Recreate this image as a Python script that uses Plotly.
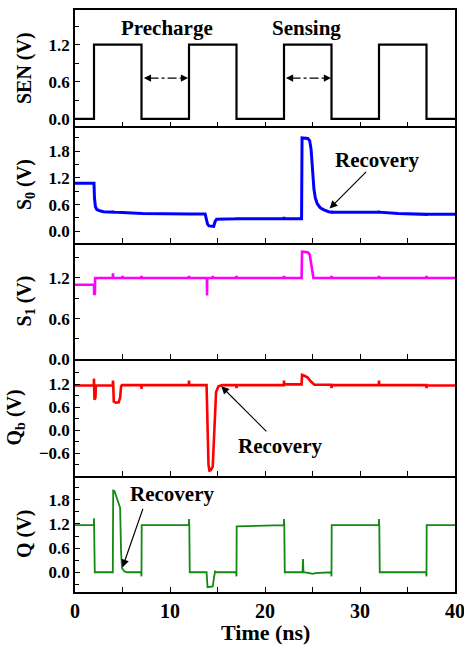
import plotly.graph_objects as go
from plotly.subplots import make_subplots

# ---------------- data ----------------
t_sen = [0, 2, 2, 7, 7, 12, 12, 17, 17, 22, 22, 27, 27, 32, 32, 37, 37, 40]
v_sen = [0, 0, 1.2, 1.2, 0, 0, 1.2, 1.2, 0, 0, 1.2, 1.2, 0, 0, 1.2, 1.2, 0, 0]

t_s0 = [0, 2.0, 2.05, 2.15, 2.3, 2.6, 3.0, 3.98, 4.0, 4.02, 5, 6.98, 7.0, 7.02, 11.98, 12.0, 12.02,
        13.7, 13.8, 13.95, 14.1, 14.6, 14.75, 14.9, 16.98, 17.0, 17.02, 21.98, 22.0, 22.02,
        23.85, 23.9, 24.5, 24.7, 24.85, 25.0, 25.15, 25.3, 25.5, 25.8, 26.2, 26.7, 26.98, 27.0, 27.02,
        31.98, 32.0, 32.02, 34, 36.98, 37.0, 37.02, 40]
v_s0 = [1.08, 1.08, 0.75, 0.55, 0.49, 0.46, 0.44, 0.43, 0.46, 0.43, 0.42, 0.40, 0.43, 0.40, 0.39, 0.42, 0.39,
        0.39, 0.30, 0.16, 0.12, 0.11, 0.22, 0.27, 0.28, 0.31, 0.28, 0.28, 0.32, 0.28,
        0.28, 2.10, 2.09, 2.04, 1.85, 1.30, 0.95, 0.75, 0.62, 0.53, 0.48, 0.44, 0.43, 0.46, 0.43,
        0.43, 0.46, 0.43, 0.40, 0.38, 0.41, 0.38, 0.38]

t_s1 = [0, 2.0, 2.02, 2.1, 2.12, 3.98, 4.0, 4.02, 4.98, 5.0, 5.02, 6.98, 7.0, 7.02, 11.98, 12.0, 12.02,
        13.88, 13.9, 13.92, 14.48, 14.5, 14.52, 16.98, 17.0, 17.02, 21.98, 22.0, 22.02,
        23.85, 23.9, 24.5, 24.7, 25.1, 26.98, 27.0, 27.02, 31.98, 32.0, 32.02, 36.98, 37.0, 37.02, 40]
v_s1 = [1.10, 1.10, 0.95, 0.97, 1.20, 1.20, 1.27, 1.20, 1.20, 1.23, 1.20, 1.20, 1.23, 1.20, 1.20, 1.23, 1.20,
        1.20, 0.94, 1.20, 1.20, 1.23, 1.20, 1.20, 1.23, 1.20, 1.20, 1.23, 1.20,
        1.20, 1.59, 1.58, 1.55, 1.20, 1.20, 1.23, 1.20, 1.20, 1.23, 1.20, 1.20, 1.23, 1.20, 1.20]

t_qb = [0, 1.98, 2.0, 2.02, 2.05, 2.15, 2.2, 3.98, 4.0, 4.03, 4.08, 4.3, 4.6, 4.75, 4.85, 4.95,
        6.98, 7.0, 7.02, 11.98, 12.0, 12.02, 13.85, 13.95, 14.05, 14.15, 14.3, 14.5, 14.6, 14.7, 14.85,
        15.1, 15.5, 16.98, 17.0, 17.02, 21.98, 22.0, 22.02, 23.85, 23.9, 24.2, 24.5, 24.8, 25.2,
        26.98, 27.0, 27.02, 31.98, 32.0, 32.02, 36.98, 37.0, 37.02, 40]
v_qb = [1.17, 1.17, 1.35, 1.17, 0.80, 0.85, 1.17, 1.17, 1.30, 1.17, 0.75, 0.72, 0.73, 0.85, 1.15, 1.18,
        1.18, 1.08, 1.18, 1.18, 1.30, 1.18, 1.18, 0.0, -0.90, -1.06, -1.05, -0.95, -0.40, 0.50, 1.00,
        1.15, 1.18, 1.18, 1.10, 1.18, 1.18, 1.30, 1.20, 1.20, 1.45, 1.42, 1.38, 1.28, 1.19,
        1.19, 1.10, 1.18, 1.18, 1.30, 1.18, 1.18, 1.10, 1.17, 1.17]

t_q = [0, 1.98, 2.0, 2.02, 2.08, 3.98, 4.02, 4.15, 4.3, 4.5, 4.75, 4.85, 4.95, 5.2, 5.5,
       6.95, 7.0, 7.02, 11.98, 12.0, 12.03, 12.08, 13.85, 13.95, 14.5, 14.65, 14.75, 14.9,
       16.95, 17.0, 17.02, 19, 21.98, 22.0, 22.03, 22.08, 23.95, 24.0, 24.05, 24.7, 25.0, 25.3,
       26.95, 27.0, 27.02, 31.98, 32.0, 32.03, 32.08, 36.95, 37.0, 37.02, 40]
v_q = [1.17, 1.17, 1.34, 1.17, 0.0, 0.0, 2.03, 2.02, 1.90, 1.78, 1.60, 0.50, 0.10, 0.02, 0.0,
       0.0, -0.10, 1.17, 1.17, 1.32, 1.17, 0.0, 0.0, -0.37, -0.35, -0.10, 0.02, 0.0,
       0.0, -0.10, 1.14, 1.15, 1.17, 1.32, 1.17, 0.0, 0.0, 0.33, 0.0, -0.02, -0.04, -0.02,
       0.0, -0.10, 1.17, 1.17, 1.32, 1.17, 0.0, 0.0, -0.10, 1.17, 1.17]

y_titles = ["SEN (V)", "S<sub>0</sub> (V)", "S<sub>1</sub> (V)", "Q<sub>b</sub> (V)", "Q (V)"]
x_title = "Time (ns)"
y_ranges = [[-0.12, 1.76], [-0.26, 2.36], [0.0, 1.72], [-1.19, 1.86], [-0.49, 2.4]]
y_ticks = [[0.0, 0.6, 1.2], [0.0, 0.6, 1.2, 1.8], [0.0, 0.6, 1.2], [-0.6, 0.0, 0.6, 1.2], [0.0, 0.6, 1.2, 1.8]]
y_minor = [[0.3, 0.9, 1.5], [0.3, 0.9, 1.5, 2.1], [0.3, 0.9, 1.5], [-0.9, -0.3, 0.3, 0.9, 1.5],
           [-0.3, 0.3, 0.9, 1.5, 2.1]]
x_ticks = [0, 10, 20, 30, 40]
x_minor = [5, 15, 25, 35]

series = [
    (t_sen, v_sen, "black", 2.2),
    (t_s0, v_s0, "#0000ff", 3.0),
    (t_s1, v_s1, "#ff00ff", 2.6),
    (t_qb, v_qb, "#ff0000", 2.6),
    (t_q, v_q, "#128a12", 1.8),
]

FONT = "Liberation Serif"

fig = make_subplots(rows=5, cols=1, shared_xaxes=True, vertical_spacing=0)

for i, (t, v, c, w) in enumerate(series):
    fig.add_trace(go.Scatter(x=t, y=v, mode="lines", line=dict(color=c, width=w),
                             showlegend=False), row=i + 1, col=1)

for i in range(5):
    fig.update_yaxes(
        row=i + 1, col=1, automargin=False,
        range=y_ranges[i], tickvals=y_ticks[i], tickformat=".1f",
        ticks="inside", ticklen=5, tickwidth=1.3, tickcolor="black",
        minor=dict(tickvals=y_minor[i], ticks="inside", ticklen=4, tickwidth=1.3, tickcolor="black"),
        showline=True, linecolor="black", linewidth=1.5, mirror=True,
        showgrid=False, zeroline=False,
        tickfont=dict(family=FONT, size=17, color="black", weight="bold"),
        title=dict(text=y_titles[i], standoff=12,
                   font=dict(family=FONT, size=20, color="black", weight="bold")),
    )
    fig.update_xaxes(
        row=i + 1, col=1, automargin=False, ticklabeloverflow="allow",
        range=[0, 40], tickvals=x_ticks,
        ticks="inside", ticklen=5, tickwidth=1.3, tickcolor="black",
        minor=dict(tickvals=x_minor, ticks="inside", ticklen=5, tickwidth=1.3, tickcolor="black"),
        showline=True, linecolor="black", linewidth=1.5, mirror=(i == 0),
        showgrid=False, zeroline=False,
        showticklabels=(i == 4),
        tickfont=dict(family=FONT, size=20, color="black", weight="bold"),
    )

fig.add_annotation(x=0.5, y=-0.069, xref="paper", yref="paper", text=x_title, showarrow=False,
                   yanchor="middle", font=dict(family=FONT, size=22, color="black", weight="bold"))

ann_font = dict(family=FONT, size=21, color="black", weight="bold")

# top panel labels and dashed double arrows
fig.add_annotation(x=9.65, y=1.47, xref="x", yref="y", text="Precharge", showarrow=False, font=ann_font)
fig.add_annotation(x=24.4, y=1.47, xref="x", yref="y", text="Sensing", showarrow=False, font=ann_font)
for (a, b) in [(7.25, 11.9), (22.2, 26.95)]:
    fig.add_shape(type="line", x0=a + 0.6, x1=b - 0.6, y0=0.66, y1=0.66, xref="x", yref="y",
                  line=dict(color="black", width=1.2, dash="dashdot"))
    fig.add_annotation(x=a, y=0.66, ax=a + 0.9, ay=0.66, xref="x", yref="y", axref="x", ayref="y",
                       text="", showarrow=True, arrowhead=2, arrowsize=1.2, arrowwidth=1.2, arrowcolor="black")
    fig.add_annotation(x=b, y=0.66, ax=b - 0.9, ay=0.66, xref="x", yref="y", axref="x", ayref="y",
                       text="", showarrow=True, arrowhead=2, arrowsize=1.2, arrowwidth=1.2, arrowcolor="black")

# Recovery annotations
rec = [
    ("x2", "y2", 31.75, 1.61, 30.8, 1.37, 26.8, 0.51),
    ("x4", "y4", 21.6, -0.42, 20.3, -0.07, 15.4, 1.15),
    ("x5", "y5", 10.2, 1.94, 7.2, 1.61, 5.0, 0.12),
]
for xr, yr, tx, ty, ax_, ay_, hx, hy in rec:
    fig.add_annotation(x=tx, y=ty, xref=xr, yref=yr, text="Recovery", showarrow=False, font=ann_font)
    fig.add_annotation(x=hx, y=hy, ax=ax_, ay=ay_, xref=xr, yref=yr, axref=xr, ayref=yr,
                       text="", showarrow=True, arrowhead=2, arrowsize=1.3, arrowwidth=1.2,
                       arrowcolor="black")

fig.update_layout(
    width=464, height=646,
    margin=dict(l=75, r=9, t=10, b=54),
    plot_bgcolor="white", paper_bgcolor="white",
    font=dict(family=FONT, color="black"),
)

fig.write_html("out.html")
